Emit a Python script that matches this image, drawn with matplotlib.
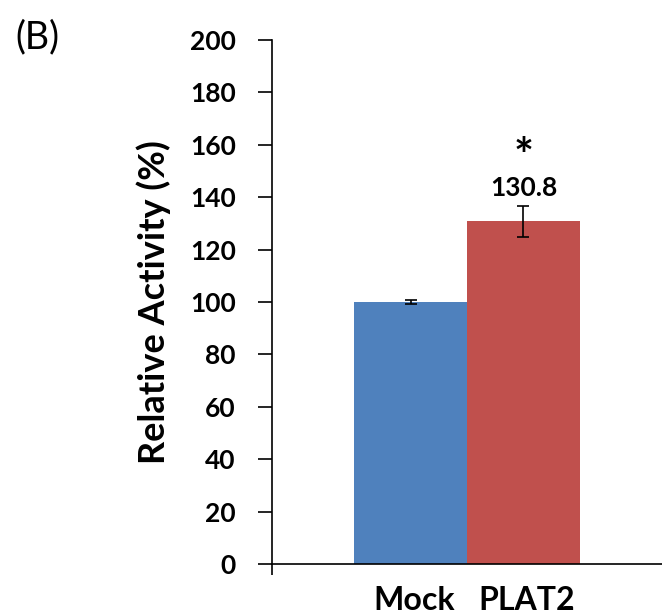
import numpy as np
import matplotlib.pyplot as plt

groups = ['Mock', 'PLAT2']
values = [100.0, 130.8]
errors = [0.8, 5.9]
colors = ['#4F81BD', '#C0504D']
value_label = '130.8'
yticks = [0, 20, 40, 60, 80, 100, 120, 140, 160, 180, 200]

plt.rcParams['font.family'] = ['Lato', 'DejaVu Sans']

fig = plt.figure(figsize=(6.62, 6.16), dpi=100)
ax = fig.add_axes([272 / 662, 52 / 616, 390 / 662, 524 / 616])

x = np.array([-0.5, 0.5])
ax.bar(x, values, width=1.0, color=colors, yerr=errors,
       error_kw=dict(ecolor='black', elinewidth=1.2, capsize=4, capthick=1.2))

ax.set_xlim(-1.726, 1.726)
ax.set_ylim(0, 200)
ax.set_yticks(yticks)
ax.set_yticklabels([str(t) for t in yticks], fontsize=19, fontweight='bold')
ax.tick_params(axis='y', length=10, width=1.2, pad=16, direction='out')
ax.set_xticks([-1.726])
ax.set_xticklabels([''])
ax.tick_params(axis='x', length=8, width=1.2, direction='out')

for s in ['top', 'right']:
    ax.spines[s].set_visible(False)
for s in ['left', 'bottom']:
    ax.spines[s].set_linewidth(1.2)
ax.spines['bottom'].set_clip_on(False)

ax.set_ylabel('Relative Activity (%)', fontsize=26, fontweight='bold', labelpad=14)

for xi, g in zip(x, groups):
    ax.text(xi + 0.03, -14, g, ha='center', va='center', fontsize=23, fontweight='bold')

ax.text(x[1], 143.6, value_label, ha='center', va='center', fontsize=19, fontweight='bold')
ax.text(x[1], 155, '*', ha='center', va='center', fontsize=34, fontweight='bold')

fig.text(15 / 662, 1 - 37 / 616, '(B)', ha='left', va='center', fontsize=27)

fig.savefig('out.png', dpi=100)
